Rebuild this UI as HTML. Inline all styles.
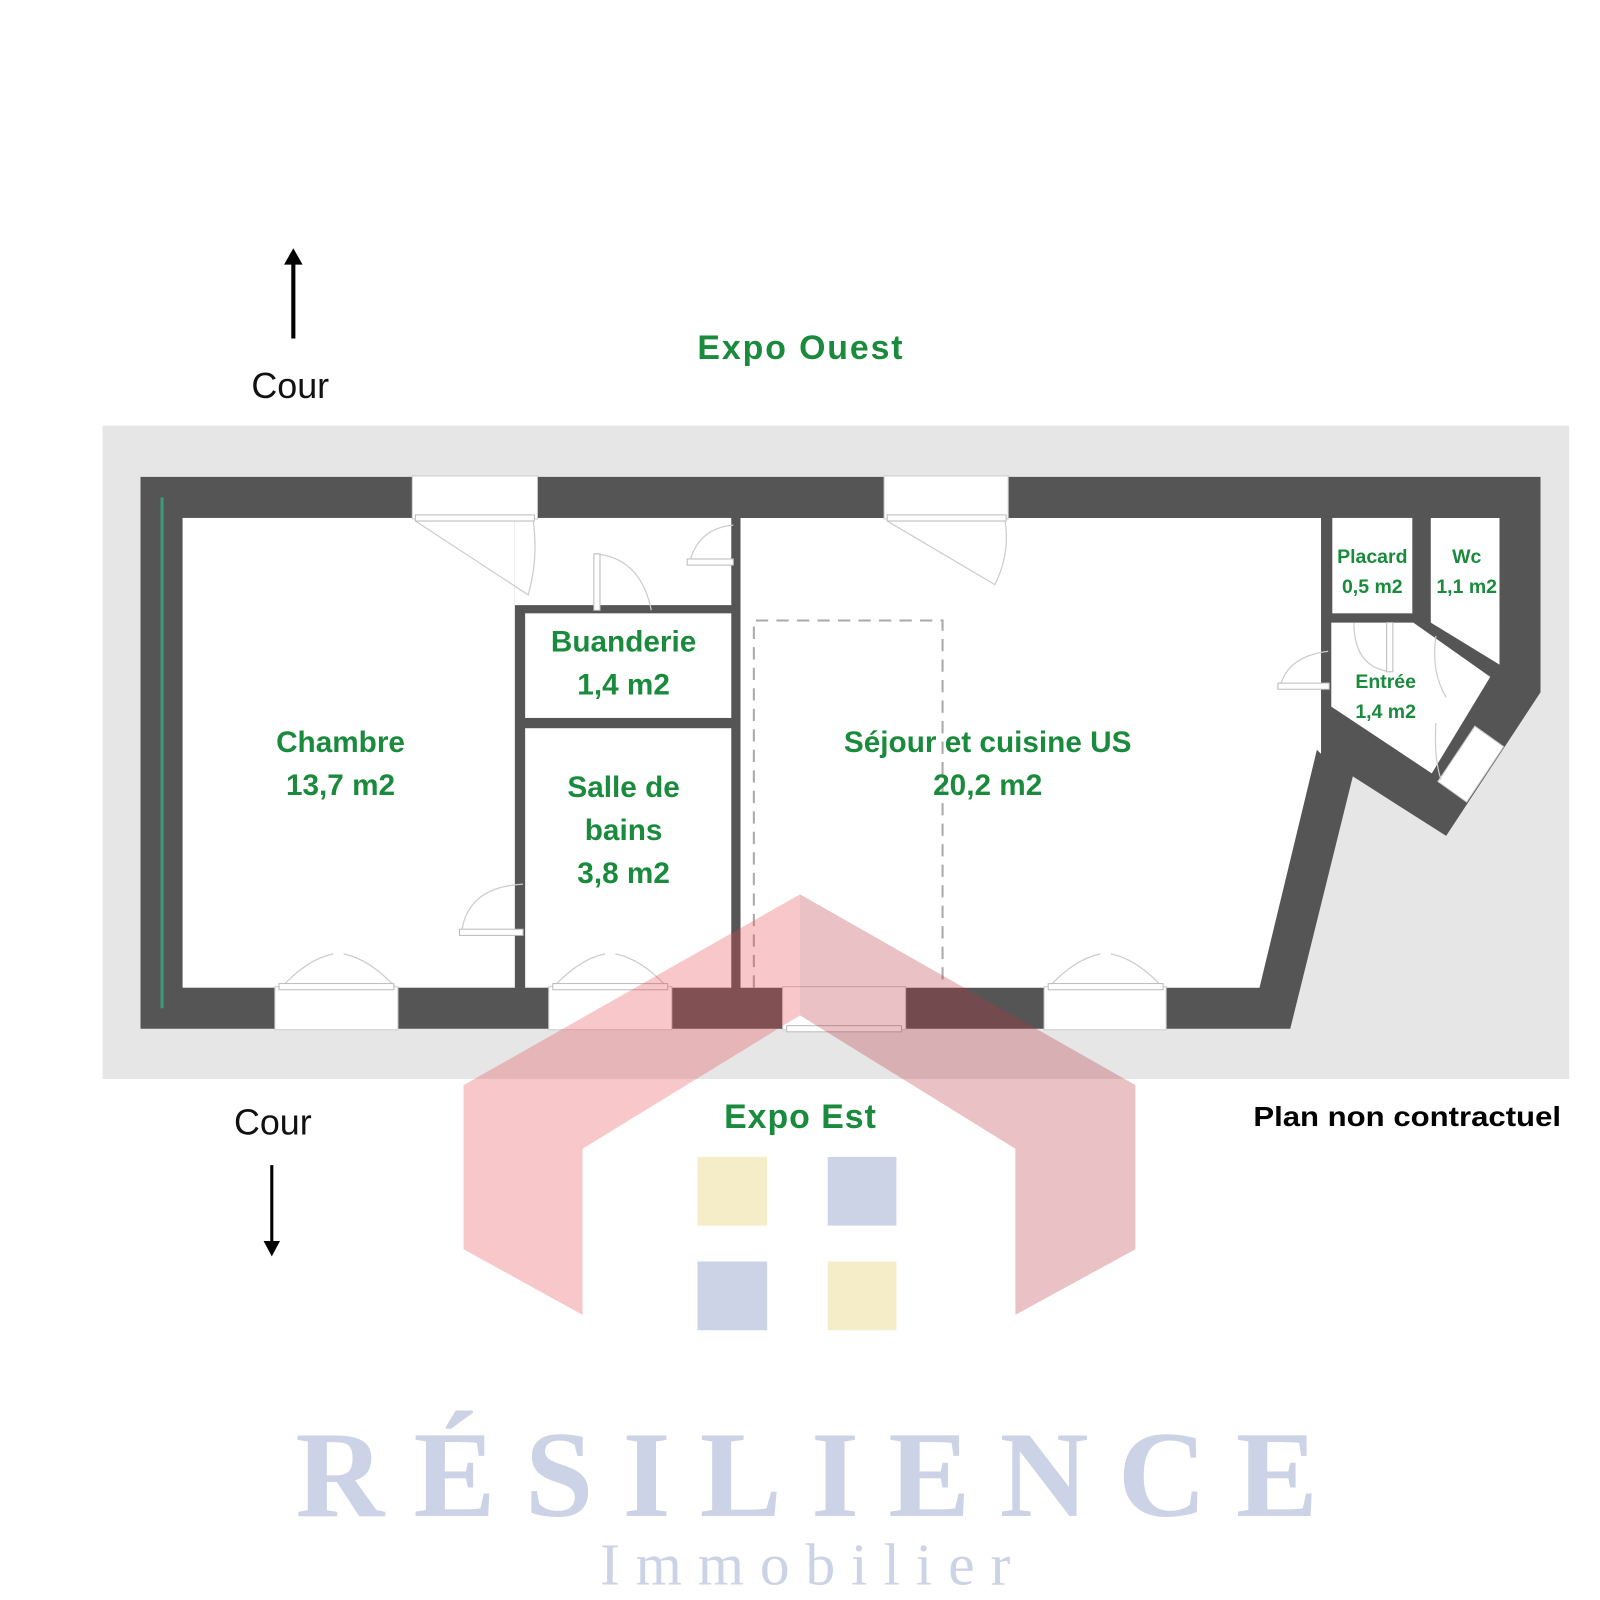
<!DOCTYPE html>
<html><head><meta charset="utf-8">
<style>
html,body{margin:0;padding:0;background:#fff;}
svg{display:block;}
text{font-family:"Liberation Sans","DejaVu Sans",sans-serif;}
</style></head>
<body>
<svg width="1600" height="1600" viewBox="0 0 1560 1560" xmlns="http://www.w3.org/2000/svg">
<rect width="1560" height="1560" fill="#fff"/>
<rect x="100" y="415" width="1430" height="637" fill="#e6e6e6"/>
<polygon points="137,465 1502,465 1502,675 1410,815 1319,757 1258,1003 137,1003" fill="#555"/>
<rect x="178" y="505" width="324" height="458" fill="#fff"/>
<rect x="502" y="505" width="211" height="85" fill="#fff"/>
<rect x="512" y="598" width="201" height="102" fill="#fff"/>
<rect x="512" y="710" width="201" height="253" fill="#fff"/>
<polygon points="722,505 1288,505 1288,735 1284,731 1228,963 722,963" fill="#fff"/>
<rect x="1299" y="505" width="78" height="93" fill="#fff"/>
<polygon points="1395,505 1462,505 1462,648 1395,607" fill="#fff"/>
<polygon points="1298,607 1378,607 1453,660 1396,754 1298,689" fill="#fff"/>
<g fill="#fff" stroke="#ccc" stroke-width="1">
<rect x="402" y="464" width="122" height="42"/>
<rect x="862" y="464" width="121" height="42"/>
<rect x="268" y="962" width="120" height="42"/>
<rect x="535" y="962" width="120" height="42"/>
<rect x="763" y="962" width="120" height="42"/>
<rect x="1018" y="962" width="119" height="42"/>
<polygon points="1438,708 1466,728 1430,782 1402,762"/>
</g>
<g fill="none" stroke="#ccc" stroke-width="1.2">
<path d="M405,508 L515,580 Q525,545 520,508"/>
<path d="M865,508 L970,570 Q985,540 980,508"/>
<path d="M582,595 L582,540 Q625,545 635,595"/>
<path d="M715,512 Q680,515 672,550 L715,550"/>
<path d="M510,862 Q455,865 450,910 L510,910"/>
<path d="M1295,635 Q1255,640 1248,670 L1295,670"/>
<path d="M1320,607 Q1320,650 1355,655 L1355,607"/>
<path d="M275,962 Q300,935 325,930 M385,962 Q360,935 335,930"/>
<path d="M540,962 Q565,935 590,930 M650,962 Q625,935 600,930"/>
<path d="M1023,962 Q1048,935 1073,930 M1133,962 Q1108,935 1083,930"/>
<path d="M1400,620 Q1395,655 1410,680"/>
<path d="M1400,705 Q1398,740 1405,760"/>
</g>
<g fill="#fff" stroke="#bbb" stroke-width="1">
<rect x="405" y="502" width="116" height="6"/>
<rect x="865" y="502" width="116" height="6"/>
<rect x="272" y="959" width="112" height="6"/>
<rect x="539" y="959" width="112" height="6"/>
<rect x="1022" y="959" width="112" height="6"/>
<rect x="767" y="1000" width="112" height="6"/>
<rect x="670" y="545" width="45" height="6"/>
<rect x="448" y="906" width="62" height="6"/>
<rect x="1246" y="666" width="50" height="6"/>
<rect x="579" y="540" width="6" height="55"/>
<rect x="1352" y="607" width="6" height="48"/>
</g>
<polyline points="735,963 735,605 919,605 919,963" fill="none" stroke="#aaa" stroke-width="2" stroke-dasharray="12,8"/>
<line x1="158" y1="485" x2="158" y2="983" stroke="#3a9a7a" stroke-width="3"/>
<polygon points="452,1218 452,1058 780,872 780,990 568,1120 568,1282" fill="#e8464e" fill-opacity="0.3"/>
<polygon points="1107,1218 1107,1058 780,872 780,990 990,1120 990,1282" fill="#b8323e" fill-opacity="0.3"/>
<rect x="680" y="1128" width="68" height="67" fill="#f5ecc8"/>
<rect x="807" y="1128" width="67" height="67" fill="#ccd3e6"/>
<rect x="680" y="1230" width="68" height="67" fill="#ccd3e6"/>
<rect x="807" y="1230" width="67" height="67" fill="#f5ecc8"/>
<text x="288" y="1478" font-size="120" font-weight="bold" fill="#ccd3e6" textLength="997" lengthAdjust="spacing" style="font-family:'Liberation Serif',serif">RÉSILIENCE</text>
<text x="585" y="1545" font-size="58" fill="#ccd3e6" textLength="400" lengthAdjust="spacing" style="font-family:'Liberation Serif',serif">Immobilier</text>
<line x1="286" y1="330" x2="286" y2="255" stroke="#000" stroke-width="4"/>
<polygon points="277,258 286,242 295,258" fill="#000"/>
<line x1="265" y1="1136" x2="265" y2="1212" stroke="#000" stroke-width="3"/>
<polygon points="257,1210 265,1225 273,1210" fill="#000"/>
<g fill="#1a8a3c" font-weight="bold" text-anchor="middle">
<text x="680" y="350" font-size="33" text-anchor="start" textLength="200" lengthAdjust="spacing">Expo  Ouest</text>
<text x="706" y="1100" font-size="33" text-anchor="start" textLength="148" lengthAdjust="spacing">Expo  Est</text>
<text x="332" y="733" font-size="29">Chambre</text>
<text x="332" y="775" font-size="29">13,7 m2</text>
<text x="608" y="635" font-size="29">Buanderie</text>
<text x="608" y="677" font-size="29">1,4 m2</text>
<text x="608" y="777" font-size="29">Salle de</text>
<text x="608" y="819" font-size="29">bains</text>
<text x="608" y="861" font-size="29">3,8 m2</text>
<text x="963" y="733" font-size="29">Séjour et cuisine US</text>
<text x="963" y="775" font-size="29">20,2 m2</text>
<text x="1338" y="549" font-size="19">Placard</text>
<text x="1338" y="578" font-size="19">0,5 m2</text>
<text x="1430" y="549" font-size="19">Wc</text>
<text x="1430" y="578" font-size="19">1,1 m2</text>
<text x="1351" y="671" font-size="19">Entrée</text>
<text x="1351" y="700" font-size="19">1,4 m2</text>
</g>
<text x="283" y="388" font-size="35" text-anchor="middle" fill="#111">Cour</text>
<text x="266" y="1106" font-size="35" text-anchor="middle" fill="#111">Cour</text>
<text x="1222" y="1098" font-size="27" font-weight="bold" fill="#000" textLength="300" lengthAdjust="spacingAndGlyphs">Plan non contractuel</text>
</svg>
</body></html>
